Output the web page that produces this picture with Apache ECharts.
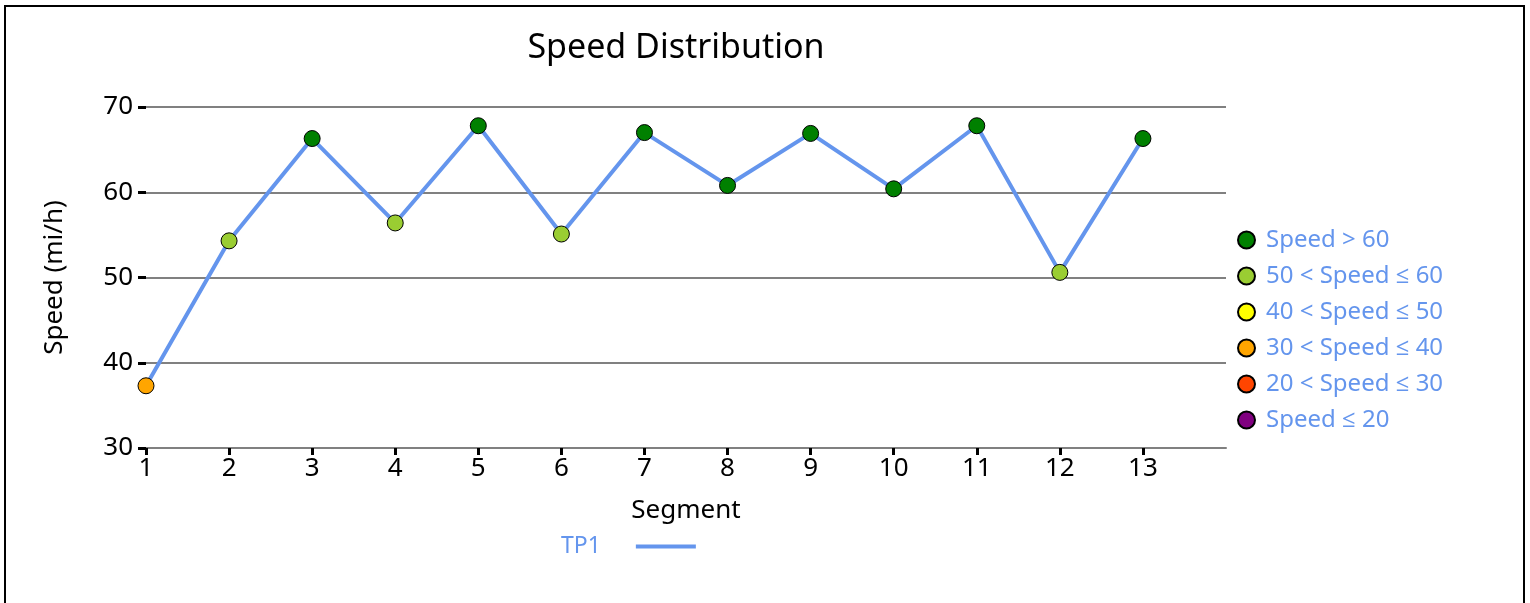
<!DOCTYPE html>
<html>
<head>
<meta charset="utf-8">
<script src="https://cdn.jsdelivr.net/npm/echarts@6/dist/echarts.min.js"></script>
<style>
  html, body { margin: 0; padding: 0; background: #fff; }
  #chart { width: 1530px; height: 603px; }
  #frame { position: absolute; left: 4px; top: 5px; width: 1517px; height: 640px; border: 2px solid #000; pointer-events: none; }
</style>
</head>
<body>
<div id="chart"></div>
<div id="frame"></div>
<script>
const segments = ['1','2','3','4','5','6','7','8','9','10','11','12','13',''];
const speeds = [37.3, 54.3, 66.3, 56.4, 67.8, 55.1, 67.0, 60.8, 66.9, 60.4, 67.8, 50.6, 66.3];
const yTicks = [30, 40, 50, 60, 70];
const bandNames = ['Speed > 60', '50 < Speed \u2264 60', '40 < Speed \u2264 50', '30 < Speed \u2264 40', '20 < Speed \u2264 30', 'Speed \u2264 20'];
const bandColors = ['#008000', '#9ACD32', '#FFFF00', '#FFA500', '#FF4500', '#800080'];
const bandLower = [60, 50, 40, 30, 20, -Infinity];

function bandColor(v) {
  for (let i = 0; i < bandLower.length; i++) if (v > bandLower[i]) return bandColors[i];
  return bandColors[bandColors.length - 1];
}

const FONT = '"Noto Sans", "Open Sans", sans-serif';
const chart = echarts.init(document.getElementById('chart'));

const series = [{
  name: 'TP1',
  type: 'line',
  data: speeds,
  symbol: 'circle',
  symbolSize: 16,
  showAllSymbol: true,
  lineStyle: { color: '#6495ED', width: 4 },
  itemStyle: {
    color: function (p) { return bandColor(p.value); },
    borderColor: '#000',
    borderWidth: 1,
    opacity: 1
  },
  emphasis: { disabled: true },
  z: 3
}];
bandNames.forEach(function (n, i) {
  series.push({
    name: n, type: 'scatter', data: [],
    itemStyle: { color: bandColors[i], borderColor: '#000', borderWidth: 1, opacity: 1 }
  });
});

chart.setOption({
  animation: false,
  backgroundColor: '#fff',
  textStyle: { fontFamily: FONT },
  title: {
    text: 'Speed Distribution',
    left: 671, top: 26, textAlign: 'center',
    textStyle: { fontFamily: FONT, fontSize: 34, fontWeight: 'normal', color: '#000' }
  },
  grid: { left: 146, right: 304, top: 107, bottom: 155, containLabel: false },
  legend: [{
    data: [{ name: 'TP1', icon: 'rect' }],
    left: 556, top: 530,
    align: 'right',
    itemWidth: 60, itemHeight: 4, itemGap: 10,
    itemStyle: { color: '#6495ED', borderWidth: 0 },
    textStyle: { fontFamily: FONT, fontSize: 23, color: '#6495ED', padding: [0, 30, 0, 0] },
    selectedMode: false
  }, {
    data: bandNames,
    orient: 'vertical',
    left: 1232, top: 223,
    icon: 'circle',
    itemWidth: 17, itemHeight: 17, itemGap: 12,
    textStyle: { fontFamily: FONT, fontSize: 24, color: '#6495ED', lineHeight: 24, padding: [0, 0, 0, 6] },
    selectedMode: false
  }],
  xAxis: {
    type: 'category',
    data: segments,
    boundaryGap: false,
    name: 'Segment',
    nameLocation: 'middle',
    nameGap: 50,
    nameTextStyle: { fontFamily: FONT, fontSize: 26, color: '#000' },
    axisLine: { show: true, lineStyle: { color: '#808080', width: 2 } },
    axisTick: { show: true, length: 7, interval: function (i) { return i < 13; }, lineStyle: { color: '#000', width: 3 } },
    axisLabel: { interval: function (i) { return i < 13; }, fontFamily: FONT, fontSize: 26, color: '#000', margin: 8 },
    splitLine: { show: false }
  },
  yAxis: {
    type: 'value',
    min: yTicks[0], max: yTicks[yTicks.length - 1], interval: 10,
    name: 'Speed (mi/h)',
    nameLocation: 'middle',
    nameGap: 78,
    nameRotate: 90,
    nameTextStyle: { fontFamily: FONT, fontSize: 26, color: '#000' },
    axisLine: { show: false },
    axisTick: { show: true, length: 8, lineStyle: { color: '#000', width: 3 } },
    axisLabel: { fontFamily: FONT, fontSize: 26, color: '#000', margin: 13 },
    splitLine: { show: true, lineStyle: { color: '#808080', width: 2 } }
  },
  tooltip: { show: false },
  series: series
});
</script>
</body>
</html>
